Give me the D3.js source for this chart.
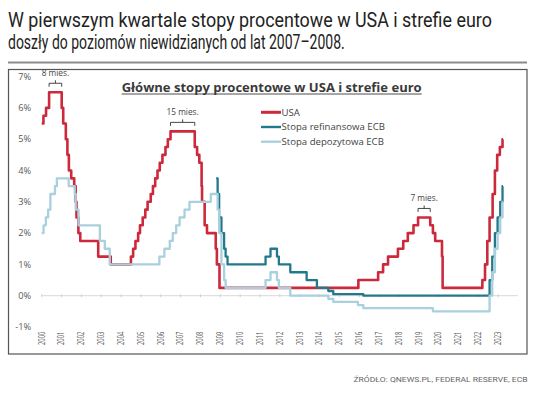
<!DOCTYPE html>
<html><head><meta charset="utf-8">
<script src="https://cdn.jsdelivr.net/npm/d3@7"></script>
<style>body{margin:0;background:#fff}svg{display:block}</style>
</head><body>
<script>
// ---- DATA (rate change dates and levels, %) ----
const usaDates = ["2000-01-01","2000-02-02","2000-03-21","2000-05-16","2001-01-03","2001-01-31","2001-03-20","2001-04-18","2001-05-15","2001-06-27","2001-08-21","2001-09-17","2001-10-02","2001-11-06","2001-12-11","2002-11-06","2003-06-25","2004-06-30","2004-08-10","2004-09-21","2004-11-10","2004-12-14","2005-02-02","2005-03-22","2005-05-03","2005-06-30","2005-08-09","2005-09-20","2005-11-01","2005-12-13","2006-01-31","2006-03-28","2006-05-10","2006-06-29","2007-09-18","2007-10-31","2007-12-11","2008-01-22","2008-01-30","2008-03-18","2008-04-30","2008-10-08","2008-10-29","2008-12-16","2015-12-16","2016-12-14","2017-03-15","2017-06-14","2017-12-13","2018-03-21","2018-06-13","2018-09-26","2018-12-19","2019-07-31","2019-09-18","2019-10-30","2020-03-03","2020-03-15","2022-03-16","2022-05-04","2022-06-15","2022-07-27","2022-09-21","2022-11-02","2022-12-14","2023-02-01","2023-03-22","2023-03-31"];
const usaValues = [5.5,5.75,6.0,6.5,6.0,5.5,5.0,4.5,4.0,3.75,3.5,3.0,2.5,2.0,1.75,1.25,1.0,1.25,1.5,1.75,2.0,2.25,2.5,2.75,3.0,3.25,3.5,3.75,4.0,4.25,4.5,4.75,5.0,5.25,4.75,4.5,4.25,3.5,3.0,2.25,2.0,1.5,1.0,0.25,0.5,0.75,1.0,1.25,1.5,1.75,2.0,2.25,2.5,2.25,2.0,1.75,1.25,0.25,0.5,1.0,1.75,2.5,3.25,4.0,4.5,4.75,5.0,5.0];

const refiDates = ["2008-10-15","2008-11-12","2008-12-10","2009-01-21","2009-03-11","2009-04-08","2009-05-13","2011-04-13","2011-07-13","2011-11-09","2011-12-14","2012-07-11","2013-05-08","2013-11-13","2014-06-11","2014-09-10","2016-03-16","2022-07-27","2022-09-14","2022-11-02","2022-12-21","2023-02-08","2023-03-22","2023-03-31"];
const refiValues = [3.75,3.25,2.5,2.0,1.5,1.25,1.0,1.25,1.5,1.25,1.0,0.75,0.5,0.25,0.15,0.05,0.0,0.5,1.25,2.0,2.5,3.0,3.5,3.5];

const depoDates = ["2000-01-01","2000-02-04","2000-03-17","2000-04-28","2000-06-09","2000-09-01","2000-10-06","2001-05-11","2001-08-31","2001-09-18","2001-11-09","2002-12-06","2003-03-07","2003-06-06","2005-12-06","2006-03-08","2006-06-15","2006-08-09","2006-10-11","2006-12-13","2007-03-14","2007-06-13","2008-07-09","2008-11-12","2008-12-10","2009-01-21","2009-03-11","2009-04-08","2011-04-13","2011-07-13","2011-11-09","2011-12-14","2012-07-11","2014-06-11","2014-09-10","2015-12-09","2016-03-16","2019-09-18","2022-07-27","2022-09-14","2022-11-02","2022-12-21","2023-02-08","2023-03-22","2023-03-31"];
const depoValues = [2.0,2.25,2.5,2.75,3.25,3.5,3.75,3.5,3.25,2.75,2.25,1.75,1.5,1.0,1.25,1.5,1.75,2.0,2.25,2.5,2.75,3.0,3.25,2.75,2.0,1.0,0.5,0.25,0.5,0.75,0.5,0.25,0.0,-0.1,-0.2,-0.3,-0.4,-0.5,0.0,0.75,1.5,2.0,2.5,3.0,3.0];

const seriesNames = ["USA","Stopa refinansowa ECB","Stopa depozytowa ECB"];
const yTicks = [-1,0,1,2,3,4,5,6,7];
const yearTicks = d3.range(2000, 2024);

const noteLabels = ["8 mies.","15 mies.","7 mies."];
const noteStart = ["2000-05-16","2006-06-29","2018-12-19"];
const noteEnd = ["2001-01-03","2007-09-18","2019-07-31"];
const noteValue = [6.5,5.25,2.5];

const headline = ["W pierwszym kwartale stopy procentowe w USA i strefie euro","doszły do poziomów niewidzianych od lat 2007–2008."];
const headlineWidth = [484, 337];
const chartTitle = "Główne stopy procentowe w USA i strefie euro";
const sourceText = "ŹRÓDŁO: QNEWS.PL, FEDERAL RESERVE, ECB";

// ---- DRAW ----
const W = 536, H = 393;
const parse = d3.utcParse("%Y-%m-%d");
const svg = d3.select("body").append("svg").attr("width", W).attr("height", H);

const x = d3.scaleUtc().domain([Date.UTC(2000,0,1), Date.UTC(2024,0,1)]).range([41.7, 518]);
const y = d3.scaleLinear().domain([-1, 7]).range([327, 76.6]);

// headline (each line condensed by horizontal scaling to the reference width)
headline.forEach((t, i) => {
  const g = svg.append("g");
  const tx = g.append("text").attr("x", 0).attr("y", 26.7 + i*22.6)
    .attr("font-family", "Roboto").attr("font-size", 20).attr("fill", "#222").text(t);
  const w = tx.node().getComputedTextLength();
  g.attr("transform", `translate(8,0) scale(${headlineWidth[i]/w},1)`);
});

svg.append("line").attr("x1", 8).attr("x2", 527).attr("y1", 62.5).attr("y2", 62.5)
  .attr("stroke", "#8c8c8c").attr("stroke-width", 1.8);

// chart box
svg.append("rect").attr("x", 8.5).attr("y", 69.5).attr("width", 518.5).attr("height", 284.5)
  .attr("fill", "none").attr("stroke", "#555").attr("stroke-width", 1.2);

// chart title
svg.append("text").attr("x", 121.7).attr("y", 91.5)
  .attr("font-family", "Open Sans").attr("font-weight", 700).attr("font-size", 11.8)
  .attr("fill", "#3a3a3a").attr("textLength", 300).attr("lengthAdjust", "spacingAndGlyphs")
  .text(chartTitle);
svg.append("line").attr("x1", 121.7).attr("x2", 421.7).attr("y1", 94).attr("y2", 94)
  .attr("stroke", "#3a3a3a").attr("stroke-width", 0.9);

// y labels
svg.selectAll("text.yl").data(yTicks).join("text")
  .attr("x", 31).attr("y", d=>y(d)).attr("dy", "0.35em").attr("text-anchor", "end")
  .attr("font-family", "Open Sans").attr("font-size", 9.2).attr("fill", "#595959")
  .text(d=>d+"%");

// zero axis line with ticks
svg.append("line").attr("x1", x.range()[0]).attr("x2", x.range()[1]).attr("y1", y(0)).attr("y2", y(0))
  .attr("stroke", "#d9d9d9").attr("stroke-width", 1);
svg.selectAll("line.tk").data(yearTicks).join("line")
  .attr("x1", d=>x(Date.UTC(d,0,1))).attr("x2", d=>x(Date.UTC(d,0,1)))
  .attr("y1", y(0)-1.5).attr("y2", y(0)+1.5).attr("stroke", "#d0d0d0").attr("stroke-width", 1);

// year labels
svg.selectAll("text.xl").data(yearTicks).join("text")
  .attr("transform", d=>`translate(${x(Date.UTC(d,0,1))+2.8},345) rotate(-90)`)
  .attr("font-family", "Open Sans").attr("font-size", 8.2).attr("fill", "#555")
  .attr("textLength", 13.3).attr("lengthAdjust", "spacingAndGlyphs")
  .text(d=>d);

// series
const toPts = (ds, vs) => ds.map((d,i)=>({t: parse(d), v: vs[i]}));
const line = d3.line().x(d=>x(d.t)).y(d=>y(d.v)).curve(d3.curveStepAfter);
const series = [
  {name: seriesNames[0], pts: toPts(usaDates, usaValues), color: "#cc2a3c", w: 2.6},
  {name: seriesNames[1], pts: toPts(refiDates, refiValues), color: "#23798b", w: 2.3},
  {name: seriesNames[2], pts: toPts(depoDates, depoValues), color: "#a9d0dd", w: 2.3}
];
[0, 1, 2].forEach(i => {
  svg.append("path").datum(series[i].pts).attr("d", line)
    .attr("fill", "none").attr("stroke", series[i].color).attr("stroke-width", series[i].w)
    .attr("stroke-linejoin", "round");
});

// legend
const lg = svg.selectAll("g.lg").data(series).join("g")
  .attr("transform", (d,i)=>`translate(261,${112.3 + i*14.7})`);
lg.append("line").attr("x1", 0).attr("x2", 20).attr("y1", 0).attr("y2", 0)
  .attr("stroke", d=>d.color).attr("stroke-width", (d,i)=> i===0 ? 3 : 2.4);
lg.append("text").attr("x", 20.5).attr("y", 0).attr("dy", "0.35em")
  .attr("font-family", "Open Sans").attr("font-size", 9.6).attr("fill", "#444")
  .text(d=>d.name);

// annotations with brackets
noteLabels.forEach((lab, i) => {
  const x0 = x(parse(noteStart[i])), x1 = x(parse(noteEnd[i]));
  const yb = y(noteValue[i]) - 9;
  const xm = (x0 + x1) / 2;
  svg.append("path")
    .attr("d", `M${x0},${yb+3.5}V${yb}H${x1}V${yb+3.5}M${xm},${yb}V${yb-3}`)
    .attr("fill", "none").attr("stroke", "#333").attr("stroke-width", 0.9);
  svg.append("text").attr("x", xm).attr("y", yb - 7)
    .attr("text-anchor", "middle").attr("font-family", "Open Sans").attr("font-size", 8.3)
    .attr("fill", "#444").text(lab);
});

// source
svg.append("text").attr("x", 527.5).attr("y", 382).attr("text-anchor", "end")
  .attr("font-family", "Roboto").attr("font-size", 7.4).attr("fill", "#666")
  .attr("textLength", 174).attr("lengthAdjust", "spacingAndGlyphs")
  .text(sourceText);
</script>
</body></html>
